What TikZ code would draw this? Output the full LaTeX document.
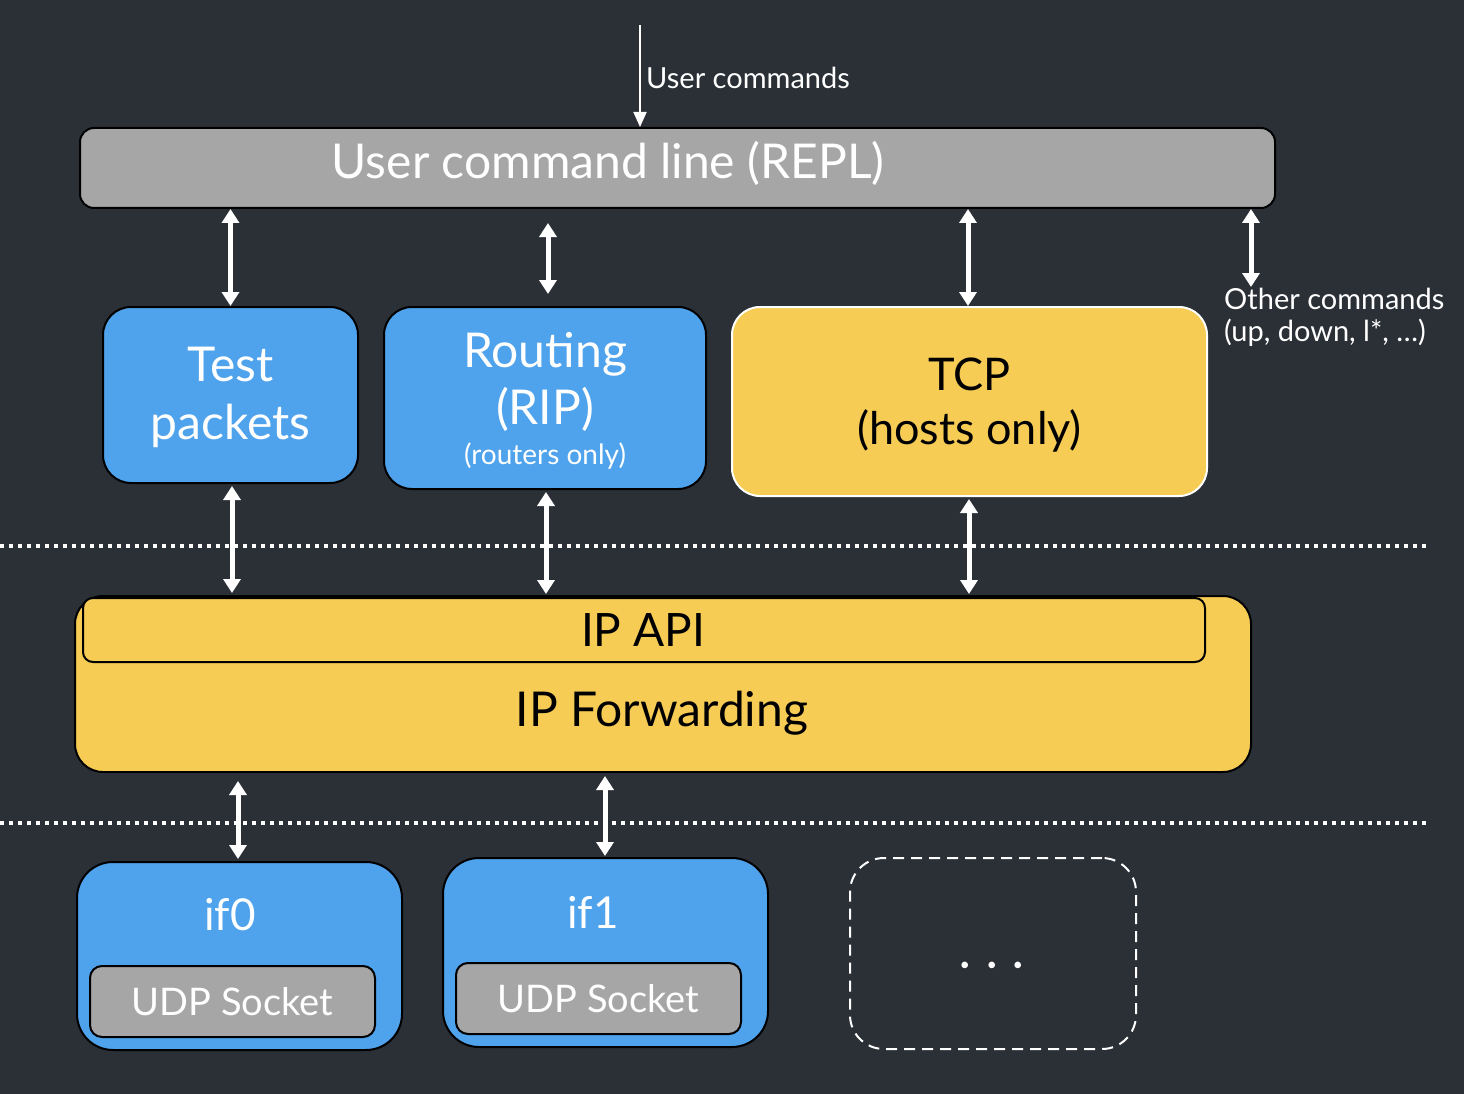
\documentclass[tikz,border=0pt]{standalone}
\usepackage{fontspec}
\setmainfont{Lato}
\usetikzlibrary{arrows.meta}
\definecolor{bgc}{RGB}{43,48,55}
\definecolor{blu}{RGB}{79,163,236}
\definecolor{yel}{RGB}{246,204,85}
\definecolor{gry}{RGB}{166,166,166}
\tikzset{
  box/.style={draw=black, line width=2pt, inner sep=0pt, align=center},
  bluebox/.style={box, fill=blu, rounded corners=28pt, text=white},
  greybox/.style={box, fill=gry, rounded corners=12pt, text=white},
  yelbox/.style={box, fill=yel, rounded corners=28pt, text=black},
  lbl/.style={inner sep=0pt, align=center},
  dbl/.style={white, line width=5pt, {Triangle[width=17pt,length=14pt]}-{Triangle[width=17pt,length=14pt]}},
  thinarrow/.style={white, line width=2pt, -{Triangle[width=13pt,length=15pt]}},
  sep/.style={white, line width=4pt, dash pattern=on 4pt off 5pt},
  big/.style={font=\fontsize{48}{58}\selectfont},
  med/.style={font=\fontsize{29}{32}\selectfont},
}
\begin{document}
\begin{tikzpicture}[x=1pt,y=-1pt]
\fill[bgc] (0,0) rectangle (1464,1094);
\useasboundingbox (0,0) rectangle (1464,1094);

% top
\coordinate (uc) at (640,25);
\node[greybox, minimum width=1195pt, minimum height=80pt, rounded corners=14pt] (repl) at (677.5,168) {};
\node[lbl, big, text=white] (repltxt) at (608,163) {User command line (REPL)};
\draw[thinarrow] (uc) -- (uc |- repl.north);
\node[lbl, med, text=white, anchor=west] (uctxt) at (646,78) {User commands};

% second row
\node[bluebox, minimum width=255pt, minimum height=176pt] (test) at (230.5,395) {};
\node[lbl, big, text=white] (testtxt) at (230.5,397) {Test\\packets};
\node[bluebox, minimum width=322pt, minimum height=182pt] (rip) at (545,398) {};
\node[lbl, big, text=white] (riptxt1) at (545,354) {Routing};
\node[lbl, big, text=white] (riptxt2) at (545,409) {(RIP)};
\node[lbl, text=white, font=\fontsize{28}{32}\selectfont] (riptxt3) at (545,456) {(routers only)};
\node[yelbox, draw=white, minimum width=475pt, minimum height=189pt] (tcp) at (969.5,401.5) {};
\node[lbl, font=\fontsize{45}{52}\selectfont] (tcptxt1) at (969.5,374) {TCP};
\node[lbl, font=\fontsize{45}{52}\selectfont] (tcptxt2) at (969.5,431) {(hosts only)};

\node[lbl, med, text=white, align=left, anchor=west] (oc) at (1224,317) {Other commands\\(up, down, l*, \dots)};
\coordinate (ocTop) at (1251,287);

\draw[dbl] (repl.south -| test.north) -- (test.north);
\draw[dbl, shorten <=14pt, shorten >=12pt] (repl.south -| 548,0) -- (rip.north -| 548,0);
\draw[dbl] (repl.south -| 968,0) -- (tcp.north -| 968,0);
\draw[dbl] (repl.south -| ocTop) -- (ocTop);

% separators
\draw[sep] (0,546) -- (1428,546);
\draw[sep] (0,823) -- (1428,823);

% IP layer
\node[yelbox, minimum width=1176pt, minimum height=176pt] (ipf) at (663,684) {};
\node[yelbox, rounded corners=10pt, minimum width=1122pt, minimum height=64pt] (ipapi) at (644,630) {};
\node[lbl, font=\fontsize{46}{52}\selectfont] (ipapitxt) at (643,630) {IP API};
\node[lbl, big] (ipftxt) at (662,713) {IP Forwarding};

\draw[dbl, shorten <=2pt, shorten >=2pt] (test.south -| 232,0) -- (ipf.north -| 232,0);
\draw[dbl, shorten <=2pt, shorten >=1pt] (rip.south -| 546,0) -- (ipf.north -| 546,0);
\draw[dbl, shorten <=2pt, shorten >=1pt] (tcp.south -| 969,0) -- (ipf.north -| 969,0);

% interfaces
\node[bluebox, minimum width=325pt, minimum height=188pt, rounded corners=36pt] (if0) at (239.5,956) {};
\node[lbl, big, text=white, font=\fontsize{44}{52}\selectfont] (if0txt) at (230,915) {if0};
\node[greybox, minimum width=285pt, minimum height=71pt] (udp0) at (232.5,1001.5) {};
\node[lbl, text=white, font=\fontsize{38}{44}\selectfont] (udp0txt) at (232.5,1002) {UDP Socket};

\node[bluebox, minimum width=325pt, minimum height=189pt, rounded corners=36pt] (if1) at (605.5,952.5) {};
\node[lbl, text=white, font=\fontsize{44}{52}\selectfont] (if1txt) at (593,912) {if1};
\node[greybox, minimum width=285pt, minimum height=71pt] (udp1) at (598.5,998.5) {};
\node[lbl, text=white, font=\fontsize{38}{44}\selectfont] (udp1txt) at (598.5,999) {UDP Socket};

\draw[dbl, shorten <=8pt, shorten >=2pt] (ipf.south -| 238,0) -- (if0.north -| 238,0);
\draw[dbl, shorten <=3pt, shorten >=1pt] (ipf.south -| 605,0) -- (if1.north -| 605,0);

\node[draw=white, line width=2pt, dash pattern=on 11pt off 7pt, rounded corners=34pt, minimum width=286pt, minimum height=191pt, inner sep=0pt] (more) at (993,953.5) {};
\node[lbl, text=white, font=\fontsize{44}{48}\selectfont] (moretxt) at (992,970) {·\hspace{15pt}·\hspace{15pt}·};
\end{tikzpicture}
\end{document}
